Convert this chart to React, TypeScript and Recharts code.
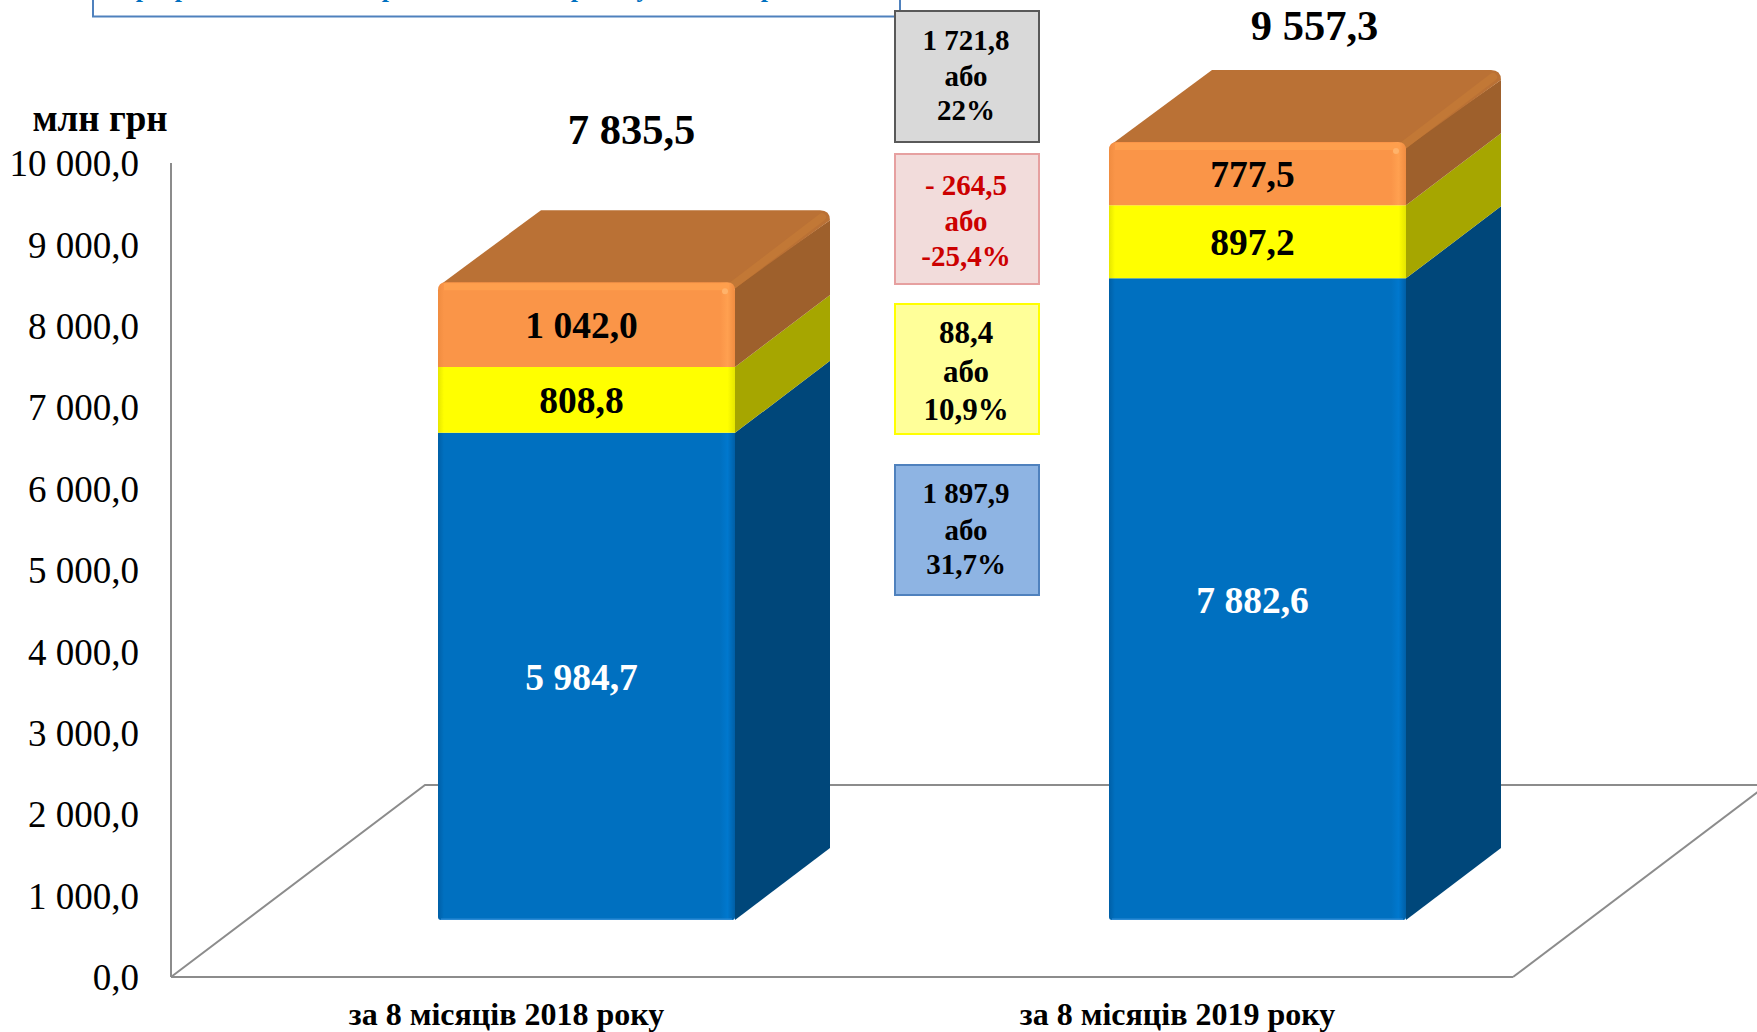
import { BarChart, Bar, XAxis, YAxis, LabelList } from "recharts";

const categories = ["за 8 місяців 2018 року", "за 8 місяців 2019 року"];
const blueValues = [5984.7, 7882.6];
const yellowValues = [808.8, 897.2];
const orangeValues = [1042.0, 777.5];
const totals = [7835.5, 9557.3];
const yTicks = [0, 1000, 2000, 3000, 4000, 5000, 6000, 7000, 8000, 9000, 10000];

const deltaBoxes = [
  { lines: ["1 721,8", "або", "22%"], fill: "#D9D9D9", border: "#595959", color: "#000", top: 11, bottom: 142, size: 29, textY: [40, 76, 110] },
  { lines: ["- 264,5", "або", "-25,4%"], fill: "#F2DCDB", border: "#E6A0A0", color: "#CC0000", top: 154, bottom: 284, size: 29, textY: [185, 221, 256] },
  { lines: ["88,4", "або", "10,9%"], fill: "#FFFF99", border: "#FFFF00", color: "#000", top: 304, bottom: 434, size: 31, textY: [332, 371, 409] },
  { lines: ["1 897,9", "або", "31,7%"], fill: "#8EB4E3", border: "#4F81BD", color: "#000", top: 465, bottom: 595, size: 29, textY: [493, 530, 564] },
];

// what is left of the cut-off heading at the top edge
const headingScraps = [
  { ch: "р", x: 143 },
  { ch: "р", x: 182 },
  { ch: "р", x: 389 },
  { ch: "р", x: 578 },
  { ch: "у", x: 643 },
  { ch: "р", x: 768 },
];

const data = categories.map((name, i) => ({
  name,
  blue: blueValues[i],
  yellow: yellowValues[i],
  orange: orangeValues[i],
  total: totals[i],
}));

const W = 1757;
const H = 1032;
const FONT = '"Liberation Serif", "Times New Roman", serif';
// the boxes stand in the middle of the floor, so everything moves by this much
const SHIFT_X = 80;
const SHIFT_Y = -57;
const DEPTH_X = 95;
const DEPTH_Y = 72;
const BACK_LEFT_X = 103;
const TOTAL_OFFSET = [
  { dx: 45, dy: -153 },
  { dx: 57, dy: -117 },
];

const fmt = (v: number) => {
  const [a, b] = v.toFixed(1).split(".");
  return `${a.replace(/\B(?=(\d{3})+$)/g, " ")},${b}`;
};

function Segment(props: any) {
  const { x, y, width: w, height: h, fillId, side, isTop, isBottom } = props;
  const sx = x + SHIFT_X;
  const sy = y + SHIFT_Y;
  const r = 8;
  const b = isBottom ? 3 : 0;
  const t = isTop ? r : 0;
  const front = `M${sx},${sy + t} Q${sx},${sy} ${sx + t},${sy} L${sx + w - t},${sy} Q${sx + w},${sy} ${sx + w},${sy + t}
    L${sx + w},${sy + h - b} Q${sx + w},${sy + h} ${sx + w - b},${sy + h} L${sx + b},${sy + h} Q${sx},${sy + h} ${sx},${sy + h - b} Z`;
  const backTop = sy - DEPTH_Y;
  return (
    <g>
      <path
        d={`M${sx + w},${sy + (isTop ? 4 : 0)} L${sx + w + DEPTH_X},${backTop + (isTop ? 10 : 0)} L${sx + w + DEPTH_X},${backTop + h} L${sx + w},${sy + h} Z`}
        fill={side}
      />
      {isTop && (
        <g>
          <path
            d={`M${sx + 3},${sy + 2} L${sx + BACK_LEFT_X},${backTop} L${sx + w + DEPTH_X - 10},${backTop} Q${sx + w + DEPTH_X},${backTop} ${sx + w + DEPTH_X},${backTop + 10} L${sx + w},${sy + 6} Z`}
            fill="#BA7135"
          />
          <line
            x1={sx + w - 2}
            y1={sy + 3}
            x2={sx + w + DEPTH_X - 8}
            y2={backTop + 7}
            stroke="#C27836"
            strokeWidth={8}
            strokeLinecap="round"
          />
        </g>
      )}
      <path d={front} fill={`url(#${fillId})`} />
      {isTop && <rect x={sx + 6} y={sy + 1} width={w - 12} height={7} fill="#FE9F4D" />}
      {isTop && <circle cx={sx + w - 10} cy={sy + 9} r={3} fill="#FFB36B" />}
      {isBottom && <rect x={sx + 3} y={sy + h - 1.5} width={w - 6} height={1.5} fill="#2C8AD4" />}
    </g>
  );
}

function ValueLabel(props: any) {
  const { x, y, width, height, value, fill } = props;
  return (
    <text
      x={x + width / 2 + SHIFT_X - 5}
      y={y + height / 2 + SHIFT_Y + 1}
      textAnchor="middle"
      dominantBaseline="central"
      fontFamily={FONT}
      fontWeight="bold"
      fontSize={37.5}
      fill={fill}
    >
      {fmt(Number(value))}
    </text>
  );
}

function TotalLabel(props: any) {
  const { x, y, width, value, index } = props;
  return (
    <text
      x={x + width / 2 + TOTAL_OFFSET[index].dx + SHIFT_X}
      y={y + SHIFT_Y + TOTAL_OFFSET[index].dy}
      textAnchor="middle"
      dominantBaseline="central"
      fontFamily={FONT}
      fontWeight="bold"
      fontSize={42.5}
      fill="#000"
    >
      {fmt(Number(value))}
    </text>
  );
}

function EdgeGradient({ id, edge, mid, glow }: { id: string; edge: string; mid: string; glow: string }) {
  return (
    <linearGradient id={id} x1="0" y1="0" x2="1" y2="0">
      <stop offset="0" stopColor={edge} />
      <stop offset="0.02" stopColor={mid} />
      <stop offset="0.95" stopColor={mid} />
      <stop offset="0.975" stopColor={glow} />
      <stop offset="1" stopColor={edge} />
    </linearGradient>
  );
}

export default function App() {
  return (
    <div style={{ position: "absolute", left: 0, top: 0, width: W, height: H, overflow: "hidden", background: "#fff" }}>
      <svg width={W} height={H} style={{ position: "absolute", left: 0, top: 0 }}>
        <g stroke="#8C8C8C" strokeWidth={2} fill="none">
          <polyline points="171,977 425,785 1757,785" />
          <line x1={1513} y1={977} x2={1767} y2={785} />
        </g>
      </svg>
      <div style={{ position: "absolute", left: 0, top: 0 }}>
        <BarChart
          width={W}
          height={H}
          data={data}
          margin={{ top: 163, right: 244, bottom: 0, left: 0 }}
          barSize={297}
        >
          <defs>
            <EdgeGradient id="frontBlue" edge="#005FA6" mid="#0070C0" glow="#0078CE" />
            <EdgeGradient id="frontYellow" edge="#E6E600" mid="#FFFF00" glow="#FFFF00" />
            <EdgeGradient id="frontOrange" edge="#F08C40" mid="#FA9548" glow="#FFA050" />
          </defs>
          <XAxis
            dataKey="name"
            height={55}
            tickLine={false}
            axisLine={{ stroke: "#8C8C8C", strokeWidth: 2 }}
            tickMargin={19}
            tick={{ fontFamily: FONT, fontWeight: "bold", fontSize: 32, fill: "#000" }}
          />
          <YAxis
            width={171}
            domain={[0, 10000]}
            ticks={yTicks}
            interval={0}
            tickFormatter={fmt}
            tickLine={false}
            axisLine={{ stroke: "#8C8C8C", strokeWidth: 2 }}
            tickMargin={26}
            tick={{ fontFamily: FONT, fontSize: 37, fill: "#000" }}
          />
          <Bar
            dataKey="blue"
            stackId="a"
            isAnimationActive={false}
            shape={(p: any) => <Segment {...p} fillId="frontBlue" side="#00477A" isBottom />}
          >
            <LabelList dataKey="blue" content={(p: any) => <ValueLabel {...p} fill="#fff" />} />
          </Bar>
          <Bar
            dataKey="yellow"
            stackId="a"
            isAnimationActive={false}
            shape={(p: any) => <Segment {...p} fillId="frontYellow" side="#A6A600" />}
          >
            <LabelList dataKey="yellow" content={(p: any) => <ValueLabel {...p} fill="#000" />} />
          </Bar>
          <Bar
            dataKey="orange"
            stackId="a"
            isAnimationActive={false}
            shape={(p: any) => <Segment {...p} fillId="frontOrange" side="#9E602C" isTop />}
          >
            <LabelList dataKey="orange" content={(p: any) => <ValueLabel {...p} fill="#000" />} />
            <LabelList dataKey="total" content={(p: any) => <TotalLabel {...p} />} />
          </Bar>
        </BarChart>
      </div>
      <svg width={W} height={H} style={{ position: "absolute", left: 0, top: 0 }} fontFamily={FONT} fontWeight="bold">
        <rect x={93} y={-6} width={807} height={22.5} fill="none" stroke="#4F81BD" strokeWidth={2} />
        {headingScraps.map((s, i) => (
          <text key={i} x={s.x} y={-3} textAnchor="middle" fontSize={26} fill="#0070C0">
            {s.ch}
          </text>
        ))}
        <text x={100} y={118} textAnchor="middle" dominantBaseline="central" fontSize={37} fill="#000">
          млн грн
        </text>
        {deltaBoxes.map((b, i) => (
          <g key={i}>
            <rect x={895} y={b.top} width={144} height={b.bottom - b.top} fill={b.fill} stroke={b.border} strokeWidth={2} />
            {b.lines.map((line, j) => (
              <text
                key={j}
                x={966}
                y={b.textY[j]}
                textAnchor="middle"
                dominantBaseline="central"
                fontSize={b.size}
                fill={b.color}
              >
                {line}
              </text>
            ))}
          </g>
        ))}
      </svg>
    </div>
  );
}
